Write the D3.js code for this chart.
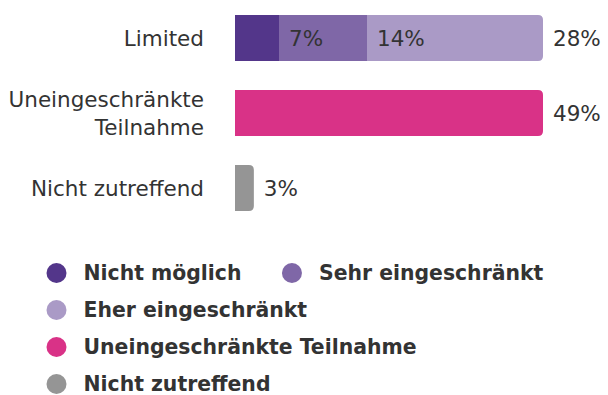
<!DOCTYPE html>
<html>
<head>
<meta charset="utf-8">
<script src="https://cdn.jsdelivr.net/npm/d3@7"></script>
<style>
  html, body { margin: 0; padding: 0; background: #fff; }
  svg { display: block; font-family: "DejaVu Sans", Verdana, sans-serif; }
</style>
</head>
<body>
<svg id="chart" width="608" height="395"></svg>
<script>
// Rows of the chart and their series
const categories = ["Limited", "Uneingeschränkte Teilnahme", "Nicht zutreffend"];
const categoryLines = [["Limited"], ["Uneingeschränkte", "Teilnahme"], ["Nicht zutreffend"]];
const seriesNames = ["Nicht möglich", "Sehr eingeschränkt", "Eher eingeschränkt", "Uneingeschränkte Teilnahme", "Nicht zutreffend"];
const seriesColors = ["#53368a", "#7f67a7", "#aa9ac6", "#d93287", "#959595"];

// Percent values per series, one entry per category row
const nichtMoeglich      = [7, 0, 0];
const sehrEingeschraenkt = [14, 0, 0];
const eherEingeschraenkt = [28, 0, 0];
const uneingeschraenkt   = [0, 49, 0];
const nichtZutreffend    = [0, 0, 3];
const seriesValues = [nichtMoeglich, sehrEingeschraenkt, eherEingeschraenkt, uneingeschraenkt, nichtZutreffend];

const svg = d3.select("#chart");

const x = d3.scaleLinear().domain([0, 49]).range([235, 543]);
const y = d3.scaleBand().domain(categories).range([0.5, 225.5])
  .paddingInner(0.387).paddingOuter(0.193);

// Build stacked segments per row
const rows = categories.map((c, i) => {
  let acc = 0;
  const segs = [];
  seriesValues.forEach((vals, s) => {
    const v = vals[i];
    if (v > 0) {
      segs.push({ cat: c, series: s, v, x0: acc, x1: acc + v });
      acc += v;
    }
  });
  if (segs.length) segs[segs.length - 1].last = true;
  return segs;
});
const segments = rows.flat();

// Rectangle with only the right corners rounded
function rightRounded(x0, y0, w, h, r) {
  r = Math.min(r, w, h / 2);
  return `M${x0},${y0}H${x0 + w - r}Q${x0 + w},${y0} ${x0 + w},${y0 + r}` +
         `V${y0 + h - r}Q${x0 + w},${y0 + h} ${x0 + w - r},${y0 + h}H${x0}Z`;
}

svg.append("g").selectAll("path").data(segments).join("path")
  .attr("d", d => {
    const x0 = x(d.x0), w = x(d.x1) - x(d.x0), y0 = y(d.cat), h = y.bandwidth();
    return d.last ? rightRounded(x0, y0, w, h, 5) : `M${x0},${y0}h${w}v${h}h${-w}Z`;
  })
  .attr("fill", d => seriesColors[d.series]);

// Value labels just past the end of each segment
svg.append("g").selectAll("text").data(segments).join("text")
  .attr("x", d => x(d.x1) + 10)
  .attr("y", d => y(d.cat) + y.bandwidth() / 2)
  .attr("dy", "0.36em")
  .attr("font-size", 21.5)
  .attr("fill", "#333")
  .text(d => d.v + "%");

// Category labels, right aligned
const labels = svg.append("g");
categories.forEach((c, i) => {
  const lines = categoryLines[i];
  const cy = y(c) + y.bandwidth() / 2;
  const lh = 28;
  lines.forEach((t, j) => {
    labels.append("text")
      .attr("x", 204)
      .attr("y", cy + (j - (lines.length - 1) / 2) * lh)
      .attr("dy", "0.36em")
      .attr("text-anchor", "end")
      .attr("font-size", 21.5)
      .attr("fill", "#333")
      .text(t);
  });
});

// Legend with wrapping rows
const legend = svg.append("g");
let lx = 47, ly = 273;
const maxX = 600, rowH = 37;
seriesNames.forEach((name, i) => {
  const item = legend.append("g");
  item.append("circle").attr("cx", 9.5).attr("cy", 0).attr("r", 10).attr("fill", seriesColors[i]);
  const t = item.append("text")
    .attr("x", 36.5).attr("y", 0).attr("dy", "0.36em")
    .attr("font-size", 20.4).attr("font-weight", "bold").attr("fill", "#333")
    .text(name);
  const w = 36.5 + t.node().getComputedTextLength();
  if (lx > 47 && lx + w > maxX) { lx = 47; ly += rowH; }
  item.attr("transform", `translate(${lx},${ly})`);
  lx += w + 41;
});
</script>
</body>
</html>
